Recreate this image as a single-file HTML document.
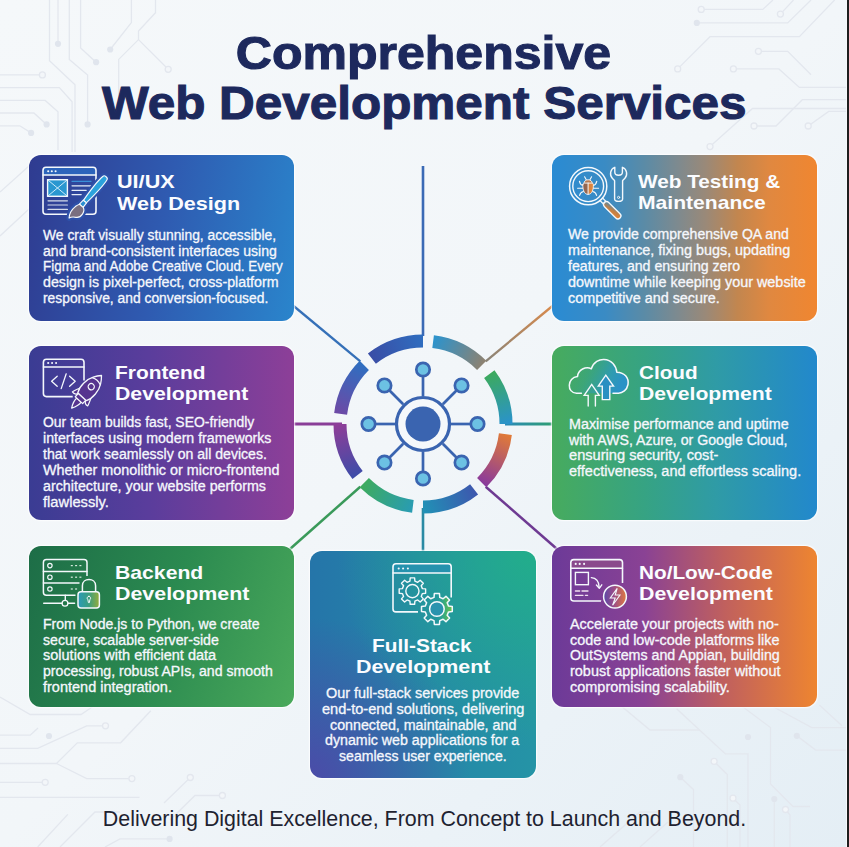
<!DOCTYPE html>
<html><head><meta charset="utf-8">
<style>
*{margin:0;padding:0;box-sizing:border-box}
html,body{width:849px;height:847px;overflow:hidden}
body{position:relative;background:#f2f6f9;font-family:"Liberation Sans",sans-serif}
svg{position:absolute;left:0;top:0}
.edge{position:absolute;left:847px;top:0;width:2px;height:847px;background:#1e1e1e;box-shadow:-1px 0 0 #f6f9fb}
.t{position:absolute;left:0;width:849px;text-align:center;color:#1d295d;font-weight:bold;font-size:46.5px;line-height:1;white-space:nowrap;-webkit-text-stroke:1.1px #1d295d}
.t span{display:inline-block}
.card{position:absolute;border-radius:12px;box-shadow:0 0 1.5px 0.6px rgba(255,255,255,0.85)}
.h,.b{position:absolute;white-space:nowrap;line-height:1;transform-origin:0 0}
.h{font-weight:bold;font-size:19.0px;color:#fbfcff}
.b{font-size:13.8px;color:#f5f7fc;-webkit-text-stroke:0.3px #f5f7fc}
.tag{position:absolute;left:0;width:849px;text-align:center;font-size:21.4px;line-height:1;color:#1e2230;white-space:nowrap}
</style></head>
<body>
<svg width="849" height="847" viewBox="0 0 849 847">
<defs><linearGradient id="bgl" x1="0" y1="0" x2="1" y2="1"><stop offset="0" stop-color="#f5f8fa"/><stop offset="0.5" stop-color="#f2f6f9"/><stop offset="1" stop-color="#e4eef5"/></linearGradient></defs>
<rect width="849" height="847" fill="url(#bgl)"/><path d="M58.0 0.0 L58.0 43.8" fill="none" stroke="#e3e7ee" stroke-width="1.3"/><path d="M49.5 0.0 L49.5 60.8 L75.0 84.8 L75.0 152.0" fill="none" stroke="#e3e7ee" stroke-width="1.3"/><path d="M69.3 0.0 L69.3 59.4 L87.6 75.0 L87.6 124.4" fill="none" stroke="#e3e7ee" stroke-width="1.3"/><path d="M80.6 0.0 L80.6 48.0 L96.1 62.2" fill="none" stroke="#e3e7ee" stroke-width="1.3"/><path d="M131.4 0.0 L131.4 22.6 L110.2 49.5" fill="none" stroke="#e3e7ee" stroke-width="1.3"/><path d="M155.5 0.0 L155.5 12.7 L138.5 31.1 L138.5 39.6 L118.7 59.4 L118.7 104.0" fill="none" stroke="#e3e7ee" stroke-width="1.3"/><path d="M138.5 39.6 L168.2 69.3" fill="none" stroke="#e3e7ee" stroke-width="1.3"/><path d="M0.0 74.9 L42.4 74.9" fill="none" stroke="#e3e7ee" stroke-width="1.3"/><path d="M0.0 87.6 L59.4 87.6 L72.1 101.8 L72.1 152.0" fill="none" stroke="#e3e7ee" stroke-width="1.3"/><path d="M0.0 100.4 L45.2 100.4 L58.0 111.7 L58.0 150.0" fill="none" stroke="#e3e7ee" stroke-width="1.3"/><path d="M0.0 113.0 L33.9 113.0 L46.6 124.4" fill="none" stroke="#e3e7ee" stroke-width="1.3"/><path d="M0.0 125.8 L19.8 125.8 L31.1 132.9" fill="none" stroke="#e3e7ee" stroke-width="1.3"/><path d="M0.0 192.0 L29.0 166.0" fill="none" stroke="#e3e7ee" stroke-width="1.3"/><path d="M0.0 236.0 L29.0 209.0" fill="none" stroke="#e3e7ee" stroke-width="1.3"/><path d="M701.2 9.4 L762.8 9.4 L773.0 0.0" fill="none" stroke="#e3e7ee" stroke-width="1.3"/><path d="M780.4 14.1 L793.5 0.0" fill="none" stroke="#e3e7ee" stroke-width="1.3"/><path d="M696.8 22.9 L787.7 22.9 L811.0 0.0" fill="none" stroke="#e3e7ee" stroke-width="1.3"/><path d="M677.7 68.9 L710.0 36.7 L799.4 36.7 L834.6 0.0" fill="none" stroke="#e3e7ee" stroke-width="1.3"/><path d="M758.4 51.3 L787.7 51.3 L811.0 74.8" fill="none" stroke="#e3e7ee" stroke-width="1.3"/><path d="M733.4 68.9 L778.9 68.9 L799.4 87.4 L847.0 87.4" fill="none" stroke="#e3e7ee" stroke-width="1.3"/><path d="M710.0 146.6 L752.5 108.5 L847.0 108.5" fill="none" stroke="#e3e7ee" stroke-width="1.3"/><path d="M754.0 126.0 L776.0 126.0 L802.3 99.7 L847.0 99.7" fill="none" stroke="#e3e7ee" stroke-width="1.3"/><path d="M808.2 126.0 L828.7 111.4 L847.0 111.4" fill="none" stroke="#e3e7ee" stroke-width="1.3"/><path d="M0.0 697.0 L30.2 714.5 L81.0 714.5 L98.0 703.0" fill="none" stroke="#e3e7ee" stroke-width="1.3"/><path d="M0.0 735.2 L30.2 735.2 L38.0 728.0" fill="none" stroke="#e3e7ee" stroke-width="1.3"/><path d="M0.0 748.4 L37.7 748.4 L86.7 725.8 L105.5 725.8" fill="none" stroke="#e3e7ee" stroke-width="1.3"/><path d="M0.0 763.5 L56.5 763.5 L77.3 742.8 L120.6 742.8 L150.8 710.7" fill="none" stroke="#e3e7ee" stroke-width="1.3"/><path d="M56.5 763.5 L86.7 778.6 L131.9 778.6" fill="none" stroke="#e3e7ee" stroke-width="1.3"/><path d="M0.0 782.3 L45.2 782.3" fill="none" stroke="#e3e7ee" stroke-width="1.3"/><path d="M0.0 797.4 L139.5 797.4" fill="none" stroke="#e3e7ee" stroke-width="1.3"/><path d="M37.7 847.0 L67.8 814.4" fill="none" stroke="#e3e7ee" stroke-width="1.3"/><path d="M190.3 777.5 L164.0 803.0" fill="none" stroke="#e3e7ee" stroke-width="1.3"/><path d="M222.4 795.5 L195.0 795.5 L170.0 820.0" fill="none" stroke="#e3e7ee" stroke-width="1.3"/><path d="M169.6 838.9 L120.0 838.9 L105.0 847.0" fill="none" stroke="#e3e7ee" stroke-width="1.3"/><path d="M60.0 847.0 L95.0 812.0 L120.0 812.0" fill="none" stroke="#e3e7ee" stroke-width="1.3"/><path d="M676.6 708.8 L725.4 753.9 L748.0 753.9 L748.0 847.0" fill="none" stroke="#e3e7ee" stroke-width="1.3"/><path d="M714.1 761.4 L727.3 774.6 L727.3 847.0" fill="none" stroke="#e3e7ee" stroke-width="1.3"/><path d="M680.3 777.2 L693.5 789.6 L693.5 847.0" fill="none" stroke="#e3e7ee" stroke-width="1.3"/><path d="M733.0 798.2 L740.0 805.0 L740.0 847.0" fill="none" stroke="#e3e7ee" stroke-width="1.3"/><path d="M774.3 799.0 L774.3 847.0" fill="none" stroke="#e3e7ee" stroke-width="1.3"/><path d="M785.5 809.5 L790.0 815.0 L790.0 847.0" fill="none" stroke="#e3e7ee" stroke-width="1.3"/><path d="M796.8 735.8 L815.6 750.1 L847.0 750.1" fill="none" stroke="#e3e7ee" stroke-width="1.3"/><path d="M740.4 705.0 L770.5 727.6 L770.5 784.0 L793.0 806.5 L810.0 806.5" fill="none" stroke="#e3e7ee" stroke-width="1.3"/><path d="M770.0 705.0 L811.8 727.6 L847.0 727.6" fill="none" stroke="#e3e7ee" stroke-width="1.3"/><path d="M819.4 705.0 L842.0 725.7" fill="none" stroke="#e3e7ee" stroke-width="1.3"/><path d="M600.0 847.0 L640.0 812.0 L660.0 812.0" fill="none" stroke="#e3e7ee" stroke-width="1.3"/><path d="M640.0 847.0 L668.0 822.0" fill="none" stroke="#e3e7ee" stroke-width="1.3"/><path d="M620.0 705.0 L650.0 730.0 L700.0 730.0" fill="none" stroke="#e3e7ee" stroke-width="1.3"/><circle cx="58" cy="43.8" r="3.1" fill="#e0e5ed"/><circle cx="87.6" cy="124.4" r="3.1" fill="#e0e5ed"/><circle cx="96.1" cy="62.2" r="3.1" fill="#e0e5ed"/><circle cx="110.2" cy="49.5" r="3.1" fill="#e0e5ed"/><circle cx="168.2" cy="69.3" r="3" fill="#f3f6f9" stroke="#e3e7ee" stroke-width="1.3"/><circle cx="42.4" cy="74.9" r="3" fill="#f3f6f9" stroke="#e3e7ee" stroke-width="1.3"/><circle cx="46.6" cy="124.4" r="3.1" fill="#e0e5ed"/><circle cx="31.1" cy="132.9" r="3.1" fill="#e0e5ed"/><circle cx="701.2" cy="9.4" r="3" fill="#f3f6f9" stroke="#e3e7ee" stroke-width="1.3"/><circle cx="780.4" cy="14.1" r="3" fill="#f3f6f9" stroke="#e3e7ee" stroke-width="1.3"/><circle cx="696.8" cy="22.9" r="3.1" fill="#e0e5ed"/><circle cx="677.7" cy="68.9" r="3" fill="#f3f6f9" stroke="#e3e7ee" stroke-width="1.3"/><circle cx="758.4" cy="51.3" r="3" fill="#f3f6f9" stroke="#e3e7ee" stroke-width="1.3"/><circle cx="733.4" cy="68.9" r="3" fill="#f3f6f9" stroke="#e3e7ee" stroke-width="1.3"/><circle cx="710" cy="146.6" r="3" fill="#f3f6f9" stroke="#e3e7ee" stroke-width="1.3"/><circle cx="754" cy="126" r="3" fill="#f3f6f9" stroke="#e3e7ee" stroke-width="1.3"/><circle cx="808.2" cy="126" r="3" fill="#f3f6f9" stroke="#e3e7ee" stroke-width="1.3"/><circle cx="49" cy="736" r="3.1" fill="#e0e5ed"/><circle cx="105.5" cy="725.8" r="3" fill="#f3f6f9" stroke="#e3e7ee" stroke-width="1.3"/><circle cx="131.9" cy="778.6" r="3" fill="#f3f6f9" stroke="#e3e7ee" stroke-width="1.3"/><circle cx="45.2" cy="782.3" r="3" fill="#f3f6f9" stroke="#e3e7ee" stroke-width="1.3"/><circle cx="190.3" cy="777.5" r="3" fill="#f3f6f9" stroke="#e3e7ee" stroke-width="1.3"/><circle cx="222.4" cy="795.5" r="3" fill="#f3f6f9" stroke="#e3e7ee" stroke-width="1.3"/><circle cx="169.6" cy="838.9" r="3.1" fill="#e0e5ed"/><circle cx="748" cy="737" r="3.1" fill="#e0e5ed"/><circle cx="714.1" cy="761.4" r="3" fill="#f3f6f9" stroke="#e3e7ee" stroke-width="1.3"/><circle cx="680.3" cy="777.2" r="3.1" fill="#e0e5ed"/><circle cx="733" cy="798.2" r="3" fill="#f3f6f9" stroke="#e3e7ee" stroke-width="1.3"/><circle cx="774.3" cy="799" r="3.1" fill="#e0e5ed"/><circle cx="785.5" cy="809.5" r="3" fill="#f3f6f9" stroke="#e3e7ee" stroke-width="1.3"/><circle cx="796.8" cy="735.8" r="3.1" fill="#e0e5ed"/>
</svg>
<div class="t" style="top:29.5px;left:-1.5px"><span style="transform:scaleX(1.076)">Comprehensive</span></div>
<div class="t" style="top:79.5px;left:-0.5px"><span style="transform:scaleX(1.063)">Web Development Services</span></div>
<svg width="849" height="847" viewBox="0 0 849 847"><defs><linearGradient id="sg0" gradientUnits="userSpaceOnUse" x1="371.9" y1="358.6" x2="423.0" y2="341.0"><stop offset="0" stop-color="#3a4ea6"/><stop offset="1" stop-color="#2f6dbf"/></linearGradient><linearGradient id="sg1" gradientUnits="userSpaceOnUse" x1="433.1" y1="341.6" x2="481.7" y2="365.3"><stop offset="0" stop-color="#2d93cc"/><stop offset="1" stop-color="#8c8272"/></linearGradient><linearGradient id="sg2" gradientUnits="userSpaceOnUse" x1="489.3" y1="374.0" x2="506.0" y2="424.0"><stop offset="0" stop-color="#3caa5e"/><stop offset="1" stop-color="#2a93ca"/></linearGradient><linearGradient id="sg3" gradientUnits="userSpaceOnUse" x1="505.4" y1="434.1" x2="481.7" y2="482.7"><stop offset="0" stop-color="#e07a38"/><stop offset="1" stop-color="#8a3a9c"/></linearGradient><linearGradient id="sg4" gradientUnits="userSpaceOnUse" x1="474.1" y1="489.4" x2="423.0" y2="507.0"><stop offset="0" stop-color="#3d58ae"/><stop offset="1" stop-color="#2191b6"/></linearGradient><linearGradient id="sg5" gradientUnits="userSpaceOnUse" x1="412.9" y1="506.4" x2="364.3" y2="482.7"><stop offset="0" stop-color="#299cb2"/><stop offset="1" stop-color="#3eab5f"/></linearGradient><linearGradient id="sg6" gradientUnits="userSpaceOnUse" x1="357.6" y1="475.1" x2="340.0" y2="424.0"><stop offset="0" stop-color="#3e4ca8"/><stop offset="1" stop-color="#8e3e98"/></linearGradient><linearGradient id="sg7" gradientUnits="userSpaceOnUse" x1="340.6" y1="413.9" x2="364.3" y2="365.3"><stop offset="0" stop-color="#6c4aa6"/><stop offset="1" stop-color="#2f6ec0"/></linearGradient><linearGradient id="lg2" gradientUnits="userSpaceOnUse" x1="552" y1="306" x2="487" y2="362"><stop offset="0" stop-color="#d88a4c"/><stop offset="1" stop-color="#8a8478"/></linearGradient><linearGradient id="lg4" gradientUnits="userSpaceOnUse" x1="505" y1="0" x2="553" y2="0"><stop offset="0" stop-color="#2a8ab8"/><stop offset="1" stop-color="#2f9e72"/></linearGradient></defs><line x1="423" y1="166" x2="423" y2="336" stroke="#3a6ab5" stroke-width="2.6"/><line x1="293" y1="305.5" x2="360.3" y2="361.3" stroke="#3570b8" stroke-width="2.3"/><line x1="553" y1="305.5" x2="485.7" y2="361.3" stroke="url(#lg2)" stroke-width="2.3"/><line x1="293" y1="424" x2="342" y2="424" stroke="#8a3e98" stroke-width="2.8"/><line x1="505" y1="424" x2="553" y2="424" stroke="url(#lg4)" stroke-width="3"/><line x1="290" y1="549" x2="360.3" y2="486.7" stroke="#3a9a5a" stroke-width="2.5"/><line x1="485.7" y1="486.7" x2="557" y2="549" stroke="#6e3a92" stroke-width="2.5"/><line x1="423" y1="508" x2="423" y2="552" stroke="#2a8aa4" stroke-width="2.6"/><path d="M371.90 358.60A83 83 0 0 1 423.00 341.00" stroke="url(#sg0)" stroke-width="13" fill="none"/><path d="M433.12 341.62A83 83 0 0 1 481.69 365.31" stroke="url(#sg1)" stroke-width="13" fill="none"/><path d="M489.29 374.05A83 83 0 0 1 506.00 424.00" stroke="url(#sg2)" stroke-width="13" fill="none"/><path d="M505.38 434.12A83 83 0 0 1 481.69 482.69" stroke="url(#sg3)" stroke-width="13" fill="none"/><path d="M474.10 489.40A83 83 0 0 1 423.00 507.00" stroke="url(#sg4)" stroke-width="13" fill="none"/><path d="M412.88 506.38A83 83 0 0 1 364.31 482.69" stroke="url(#sg5)" stroke-width="13" fill="none"/><path d="M357.60 475.10A83 83 0 0 1 340.00 424.00" stroke="url(#sg6)" stroke-width="13" fill="none"/><path d="M340.62 413.88A83 83 0 0 1 364.31 365.31" stroke="url(#sg7)" stroke-width="13" fill="none"/><line x1="451.00" y1="424.00" x2="471.00" y2="424.00" stroke="#3a64b0" stroke-width="2.7"/><line x1="442.80" y1="443.80" x2="456.94" y2="457.94" stroke="#3a64b0" stroke-width="2.7"/><line x1="423.00" y1="452.00" x2="423.00" y2="472.00" stroke="#3a64b0" stroke-width="2.7"/><line x1="403.20" y1="443.80" x2="389.06" y2="457.94" stroke="#3a64b0" stroke-width="2.7"/><line x1="395.00" y1="424.00" x2="375.00" y2="424.00" stroke="#3a64b0" stroke-width="2.7"/><line x1="403.20" y1="404.20" x2="389.06" y2="390.06" stroke="#3a64b0" stroke-width="2.7"/><line x1="423.00" y1="396.00" x2="423.00" y2="376.00" stroke="#3a64b0" stroke-width="2.7"/><line x1="442.80" y1="404.20" x2="456.94" y2="390.06" stroke="#3a64b0" stroke-width="2.7"/><circle cx="477.50" cy="424.00" r="6.7" fill="#6cc1e3" stroke="#3a64b0" stroke-width="2.7"/><circle cx="461.54" cy="462.54" r="6.7" fill="#6cc1e3" stroke="#3a64b0" stroke-width="2.7"/><circle cx="423.00" cy="478.50" r="6.7" fill="#6cc1e3" stroke="#3a64b0" stroke-width="2.7"/><circle cx="384.46" cy="462.54" r="6.7" fill="#6cc1e3" stroke="#3a64b0" stroke-width="2.7"/><circle cx="368.50" cy="424.00" r="6.7" fill="#6cc1e3" stroke="#3a64b0" stroke-width="2.7"/><circle cx="384.46" cy="385.46" r="6.7" fill="#6cc1e3" stroke="#3a64b0" stroke-width="2.7"/><circle cx="423.00" cy="369.50" r="6.7" fill="#6cc1e3" stroke="#3a64b0" stroke-width="2.7"/><circle cx="461.54" cy="385.46" r="6.7" fill="#6cc1e3" stroke="#3a64b0" stroke-width="2.7"/><circle cx="423" cy="424" r="26.5" fill="#f5f8fb" stroke="#3a64b0" stroke-width="3.2"/><circle cx="423" cy="424" r="17.5" fill="#3a64b0"/></svg>
<div class="card" style="left:29px;top:155px;width:265px;height:166px;background:linear-gradient(100deg,#2f3b90 0%,#2f5bb1 50%,#2a85cc 100%)"></div><svg style="left:38px;top:160px" width="75" height="62" viewBox="38 160 75 62" fill="none" stroke-linecap="round" stroke-linejoin="round"><path d="M43 175V170.2Q43 167.2 46 167.2H93Q96 167.2 96 170.2V175Z" fill="#2d64bb" stroke="none"/><rect x="43" y="167.2" width="53" height="47.10000000000002" rx="3" stroke="#f4f8fc" stroke-width="1.6"/><line x1="43" y1="175" x2="96" y2="175" stroke="#f4f8fc" stroke-width="1.4400000000000002"/><circle cx="48.2" cy="171.2" r="1.05" fill="#f4f8fc" stroke="none"/><circle cx="51.8" cy="171.2" r="1.05" fill="#f4f8fc" stroke="none"/><circle cx="55.6" cy="171.2" r="1.05" fill="#f4f8fc" stroke="none"/><rect x="47.6" y="179.7" width="19.8" height="16.6" fill="#2a97d0" stroke="#f4f8fc" stroke-width="1.4" stroke-linejoin="miter"/><path d="M47.8 179.9L67.2 196.1M67.2 179.9L47.8 196.1" stroke="#dff3ff" stroke-width="0.9"/><line x1="72" y1="181.3" x2="91" y2="181.3" stroke="#3a8fd8" stroke-width="1.3"/><line x1="72" y1="185.8" x2="91" y2="185.8" stroke="#e6eef8" stroke-width="1.2"/><line x1="72" y1="190.3" x2="86.2" y2="190.3" stroke="#e6eef8" stroke-width="1.2"/><line x1="72" y1="194.6" x2="81.2" y2="194.6" stroke="#e6eef8" stroke-width="1.2"/><line x1="48" y1="200.8" x2="67.4" y2="200.8" stroke="#d4dcea" stroke-width="1.2"/><line x1="48" y1="205" x2="67.4" y2="205" stroke="#d4dcea" stroke-width="1.2"/><line x1="48" y1="209.4" x2="67.4" y2="209.4" stroke="#d4dcea" stroke-width="1.2"/><g transform="translate(105 178) rotate(130.5)"><path d="M0 -2.6 C-2.2 -2.6 -2.2 2.6 0 2.6 C6 3.7 13 3.6 31 1.9 L31 -1.9 C13 -3.6 6 -3.7 0 -2.6 Z" fill="#2f52aa" stroke="#2f52aa" stroke-width="5.5"/><path d="M31 -2.1 L36.5 -2.4 L36.5 2.4 L31 2.1 Z" fill="#2f52aa" stroke="#2f52aa" stroke-width="5.5"/><path d="M36.5 -2.4 C38 -6.8 46 -8.2 48.8 -3.4 C50.2 -1 51.6 0.6 53.8 1.3 C50.5 3.8 45 4.8 41 4 C38.5 3.4 37.2 2.8 36.5 2.4 Z" fill="#2f52aa" stroke="#2f52aa" stroke-width="5.5"/><path d="M0 -2.6 C-2.2 -2.6 -2.2 2.6 0 2.6 C6 3.7 13 3.6 31 1.9 L31 -1.9 C13 -3.6 6 -3.7 0 -2.6 Z" fill="#2ca3dc" stroke="#f4f8fc" stroke-width="1.15"/><path d="M31 -2.1 L36.5 -2.4 L36.5 2.4 L31 2.1 Z" fill="#2a8fd0" stroke="#f4f8fc" stroke-width="1.15"/><path d="M36.5 -2.4 C38 -6.8 46 -8.2 48.8 -3.4 C50.2 -1 51.6 0.6 53.8 1.3 C50.5 3.8 45 4.8 41 4 C38.5 3.4 37.2 2.8 36.5 2.4 Z" fill="#7a6f80" stroke="#f4f8fc" stroke-width="1.15"/></g></svg><div class="card" style="left:552px;top:155px;width:265px;height:166px;background:linear-gradient(90deg,#2a8bd3 0%,#3a8bc4 20%,#5b8ba6 35%,#7f8a8e 48%,#9a8978 58%,#c2864f 70%,#e08840 82%,#f08630 100%)"></div><svg style="left:562px;top:160px" width="75" height="62" viewBox="562 160 75 62" fill="none" stroke-linecap="round" stroke-linejoin="round"><defs><linearGradient id="hg2" x1="0" y1="0" x2="1" y2="1"><stop offset="0" stop-color="#3a8cc0"/><stop offset="0.5" stop-color="#c08048"/><stop offset="1" stop-color="#ee8632"/></linearGradient><linearGradient id="bug2" x1="0" y1="0" x2="1" y2="0"><stop offset="0" stop-color="#8b6252"/><stop offset="0.5" stop-color="#9a6a4e"/><stop offset="0.52" stop-color="#d9803c"/><stop offset="1" stop-color="#de8a42"/></linearGradient></defs><circle cx="588.2" cy="186.2" r="18.6" stroke="#f4f8fc" stroke-width="1.5"/><circle cx="588.2" cy="186.2" r="15.4" stroke="#f4f8fc" stroke-width="1.4"/><g transform="translate(588.2 186.2) rotate(45)"><path d="M18.8 -1.8 H23 V1.8 H18.8" stroke="#f4f8fc" stroke-width="1.2"/><rect x="23" y="-3" width="22" height="6" rx="3" fill="url(#hg2)" stroke="#f4f8fc" stroke-width="1.3"/></g><path d="M583 185.5 C581 185 579.8 183.5 579.4 181.2 M593.2 185.5 C595.2 185 596.4 183.5 596.8 181.2 M582.8 188.3 H577.6 M593.4 188.3 H598.6 M583.4 191.5 C581.5 192 580 193.5 579.6 195.4 M592.8 191.5 C594.7 192 596.2 193.5 596.6 195.4 M586.3 179.8 L584.6 176.8 M589.9 179.8 L591.6 176.8" stroke="#f4f8fc" stroke-width="1.1"/><path d="M583.9 183.2 C583.9 178.5 592.3 178.5 592.3 183.2 Z" fill="#b97a50" stroke="#f4f8fc" stroke-width="0.9"/><path d="M582.8 184.6 C582.8 183.4 583.8 183.1 585 183.1 H591.2 C592.4 183.1 593.4 183.4 593.4 184.6 C593.6 189.6 592 194.4 588.1 194.4 C584.2 194.4 582.6 189.6 582.8 184.6 Z" fill="url(#bug2)" stroke="#f4f8fc" stroke-width="0.9"/><path d="M588.1 183 V194.3" stroke="#f4f8fc" stroke-width="1"/><path d="M614.8 167.3 C610.2 168.8 609.3 174.8 612.3 178.2 C613.3 179.3 614.3 180 614.6 180.8 L614.6 199 C614.6 202.2 622.6 202.2 622.6 199 L622.6 180.8 C622.9 180 623.9 179.3 624.9 178.2 C627.9 174.8 627 168.8 622.4 167.3 L622.4 172.3 C622.4 176.2 614.8 176.2 614.8 172.3 Z" stroke="#f4f8fc" stroke-width="1.4"/><circle cx="618.6" cy="197.4" r="1.1" stroke="#f4f8fc" stroke-width="0.9"/></svg><div class="card" style="left:29px;top:346px;width:265px;height:174px;background:linear-gradient(90deg,#3a3c93 0%,#5a3d9c 45%,#8d3f98 100%)"></div><svg style="left:38px;top:352px" width="75" height="62" viewBox="38 352 75 62" fill="none" stroke-linecap="round" stroke-linejoin="round"><clipPath id="c3"><path d="M40 355H110V380.5H81L72.7 394V400H40Z"/></clipPath><g clip-path="url(#c3)"><rect x="43.4" y="359.2" width="40.6" height="37.400000000000034" rx="3" stroke="#f4f8fc" stroke-width="1.6"/><line x1="43.4" y1="367" x2="84" y2="367" stroke="#f4f8fc" stroke-width="1.4400000000000002"/><circle cx="48.2" cy="363" r="1.05" fill="#f4f8fc" stroke="none"/><circle cx="52.1" cy="363" r="1.05" fill="#f4f8fc" stroke="none"/><circle cx="56.1" cy="363" r="1.05" fill="#f4f8fc" stroke="none"/></g><path d="M57.2 376.2 L51.6 381.2 L57.2 386.2 M69.6 376.2 L75.2 381.2 L69.6 386.2 M66.2 373.8 L61.2 388.6" stroke="#f4f8fc" stroke-width="1.3"/><g transform="translate(80.7 398.2) rotate(-47.5)"><path d="M8 -7.2 C4 -8.6 0.5 -10.2 -1 -10.4 C-1.6 -8.2 -0.6 -6.2 1.5 -5.2 Z" fill="#56348f" stroke="#f4f8fc" stroke-width="1.2"/><path d="M8 7.2 C4 8.6 0.5 10.2 -1 10.4 C-1.6 8.2 -0.6 6.2 1.5 5.2 Z" fill="#56348f" stroke="#f4f8fc" stroke-width="1.2"/><path d="M-2.5 -3 C-6 -3.4 -10 -2 -13.4 0 C-10 2 -6 3.4 -2.5 3 Z" fill="#56348f" stroke="#f4f8fc" stroke-width="1.2"/><path d="M-2.6 -5 H2 V5 H-2.6 Z" fill="#56348f" stroke="#f4f8fc" stroke-width="1.2"/><path d="M2 -5.8 C8 -9.2 18 -8.6 24 -5 C27.5 -3 29.5 -1.2 30.8 0 C29.5 1.2 27.5 3 24 5 C18 8.6 8 9.2 2 5.8 Z" fill="#56348f" stroke="#f4f8fc" stroke-width="1.3"/><path d="M23 -5.4 C24.6 -2 24.6 2 23 5.4" stroke="#f4f8fc" stroke-width="1.2"/><circle cx="15.6" cy="0" r="3.1" stroke="#f4f8fc" stroke-width="1.2"/></g></svg><div class="card" style="left:552px;top:346px;width:265px;height:174px;background:linear-gradient(90deg,#47ab5e 0%,#36a383 35%,#2f9ba6 62%,#2288cc 100%)"></div><svg style="left:562px;top:352px" width="75" height="62" viewBox="562 352 75 62" fill="none" stroke-linecap="round" stroke-linejoin="round"><defs><linearGradient id="cg4" x1="0" y1="0" x2="1" y2="0.3"><stop offset="0" stop-color="#3fa66a" stop-opacity="0"/><stop offset="0.42" stop-color="#33a097" stop-opacity="0.3"/><stop offset="0.75" stop-color="#2e9ab8" stop-opacity="0.85"/><stop offset="1" stop-color="#2a92c6"/></linearGradient></defs><path d="M581.4 393.2 H576.5 C566.5 393 567 377.5 577.5 376.6 C578 369.5 586 366 591.3 368.8 C593.5 361.5 599.5 359.2 604 359.4 C611.5 359.7 616.2 365.5 616.8 372.2 C625 372.5 629 378 628 384.5 C627 390 622.5 393.2 618.5 393.2 H613" fill="url(#cg4)" stroke="none"/><path d="M581.4 393.2 H576.5 C566.5 393 567 377.5 577.5 376.6 C578 369.5 586 366 591.3 368.8 C593.5 361.5 599.5 359.2 604 359.4 C611.5 359.7 616.2 365.5 616.8 372.2 C625 372.5 629 378 628 384.5 C627 390 622.5 393.2 618.5 393.2 H613" stroke="#f4f8fc" stroke-width="1.5"/><path d="M588.2 406 V395.4 H584.2 L591.7 384.4 L599.2 395.4 H595.4 V406" stroke="#f4f8fc" stroke-width="1.4" stroke-linejoin="miter"/><path d="M602.3 399.6 V386.1 H598.3 L605.8 375.2 L613.5 386.1 H609.8 V399.6 Z" fill="#2a8fc2" stroke="#f4f8fc" stroke-width="1.4" stroke-linejoin="miter"/></svg><div class="card" style="left:29px;top:546px;width:265px;height:161px;background:linear-gradient(110deg,#1d6d47 0%,#2b8a50 50%,#4aa95b 100%)"></div><svg style="left:38px;top:552px" width="75" height="62" viewBox="38 552 75 62" fill="none" stroke-linecap="round" stroke-linejoin="round"><defs><linearGradient id="lk5" x1="0" y1="0" x2="1" y2="0"><stop offset="0" stop-color="#2a9ab8"/><stop offset="0.5" stop-color="#3a9e80"/><stop offset="1" stop-color="#96ac3a"/></linearGradient></defs><clipPath id="c5"><path d="M40 555H95V576H79.5V589H75.5V600H40Z"/></clipPath><g clip-path="url(#c5)"><rect x="43.4" y="559.6" width="43.6" height="35.6" rx="3" stroke="#f4f8fc" stroke-width="1.5"/><line x1="43.4" y1="571.5" x2="87" y2="571.5" stroke="#f4f8fc" stroke-width="1.4"/><line x1="43.4" y1="583" x2="87" y2="583" stroke="#f4f8fc" stroke-width="1.4"/></g><circle cx="49.9" cy="565.6" r="2.2" stroke="#f4f8fc" stroke-width="1.2"/><circle cx="49.9" cy="577.2" r="2.2" stroke="#f4f8fc" stroke-width="1.2"/><circle cx="49.9" cy="589" r="2.2" stroke="#f4f8fc" stroke-width="1.2"/><rect x="70.8" y="565.0" width="2" height="1.2" fill="#d8eadf" stroke="none"/><rect x="75.1" y="565.0" width="2" height="1.2" fill="#d8eadf" stroke="none"/><rect x="79.4" y="565.0" width="2" height="1.2" fill="#d8eadf" stroke="none"/><rect x="70.8" y="576.6" width="2" height="1.2" fill="#d8eadf" stroke="none"/><rect x="75.1" y="576.6" width="2" height="1.2" fill="#d8eadf" stroke="none"/><rect x="79.4" y="576.6" width="2" height="1.2" fill="#d8eadf" stroke="none"/><rect x="70.8" y="588.4" width="2" height="1.2" fill="#d8eadf" stroke="none"/><rect x="75.1" y="588.4" width="2" height="1.2" fill="#d8eadf" stroke="none"/><path d="M65.3 595.3 V600.3 M43.7 603.2 H62 M68 603.2 H74.6" stroke="#f4f8fc" stroke-width="1.4"/><circle cx="65" cy="603.2" r="2.9" stroke="#f4f8fc" stroke-width="1.3"/><path d="M82.4 591.8 V585.8 C82.4 577.5 95.6 577.5 95.6 585.8 V591.8" stroke="#f4f8fc" stroke-width="1.5"/><rect x="78" y="591.8" width="21.4" height="16.3" rx="3" fill="url(#lk5)" stroke="#f4f8fc" stroke-width="1.5"/><path d="M88.9 596.3 C87 596.3 86.6 598.8 87.9 599.7 L88.4 602.6 H89.4 L89.9 599.7 C91.2 598.8 90.8 596.3 88.9 596.3 Z" stroke="#f4f8fc" stroke-width="1"/></svg><div class="card" style="left:552px;top:546px;width:265px;height:161px;background:linear-gradient(90deg,#6c3a98 0%,#8a4294 35%,#c0605e 65%,#ee8530 100%)"></div><svg style="left:562px;top:552px" width="75" height="62" viewBox="562 552 75 62" fill="none" stroke-linecap="round" stroke-linejoin="round"><defs><linearGradient id="bc6" x1="0" y1="0" x2="1" y2="0"><stop offset="0" stop-color="#5a48a8"/><stop offset="0.45" stop-color="#9a4c88"/><stop offset="1" stop-color="#e07a3e"/></linearGradient></defs><clipPath id="c6"><path d="M565 555H630V583 H614 L604 588 L600 606 H565Z"/></clipPath><g clip-path="url(#c6)"><path d="M570.8 568.3V562.6Q570.8 559.6 573.8 559.6H619.5Q622.5 559.6 622.5 562.6V568.3Z" fill="#8a4a8c" stroke="none"/><rect x="570.8" y="559.6" width="51.700000000000045" height="41.39999999999998" rx="3" stroke="#f4f8fc" stroke-width="1.6"/><line x1="570.8" y1="568.3" x2="622.5" y2="568.3" stroke="#f4f8fc" stroke-width="1.4400000000000002"/><circle cx="575.7" cy="563.9" r="1.05" fill="#f4f8fc" stroke="none"/><circle cx="579.7" cy="563.9" r="1.05" fill="#f4f8fc" stroke="none"/><circle cx="584.1" cy="563.9" r="1.05" fill="#f4f8fc" stroke="none"/></g><rect x="575.4" y="572.4" width="13" height="12.3" stroke="#f4f8fc" stroke-width="1.4" stroke-linejoin="miter"/><path d="M591.3 577.6 C595.5 577.8 598.8 580.5 599.2 587.2" stroke="#f4f8fc" stroke-width="1.3"/><path d="M596.4 585 L599.3 588.3 L601.8 584.8" stroke="#f4f8fc" stroke-width="1.3"/><path d="M575.4 591 H579.7 M582 591 H588 M575.4 595.3 H583 M585.4 595.3 H587.6" stroke="#f0dff0" stroke-width="1.3"/><circle cx="615" cy="596.6" r="11.4" fill="url(#bc6)" stroke="#f4f8fc" stroke-width="1.5"/><path d="M617.2 588.4 L610.3 598 H615.2 L612.6 605.2 L620 595 H615.2 Z" stroke="#f4f8fc" stroke-width="1.1" stroke-linejoin="miter"/></svg><div class="card" style="left:310px;top:551px;width:226px;height:227px;background:radial-gradient(circle at 100% 0%,rgba(34,176,136,0.92) 0,rgba(34,176,136,0) 62%),radial-gradient(circle at 0% 100%,rgba(78,72,168,0.92) 0,rgba(78,72,168,0) 50%),linear-gradient(90deg,#2575a9,#2589a8 60%,#2594a6)"></div><svg style="left:385px;top:558px" width="75" height="72" viewBox="385 558 75 72" fill="none" stroke-linecap="round" stroke-linejoin="round"><defs><linearGradient id="gg7" x1="0" y1="0" x2="1" y2="0"><stop offset="0" stop-color="#2aa5a0" stop-opacity="0"/><stop offset="0.5" stop-color="#2aa5a0" stop-opacity="0"/><stop offset="0.78" stop-color="#42b070"/><stop offset="1" stop-color="#70c24e"/></linearGradient></defs><clipPath id="c7"><path d="M388 560H456V597.5H430L418 606V616H388Z"/></clipPath><g clip-path="url(#c7)"><path d="M393 573V566.8Q393 563.8 396 563.8H448.2Q451.2 563.8 451.2 566.8V573Z" fill="#2592ae" stroke="none"/><rect x="393" y="563.8" width="58.19999999999999" height="48.10000000000002" rx="3" stroke="#f4f8fc" stroke-width="1.6"/><line x1="393" y1="573" x2="451.2" y2="573" stroke="#f4f8fc" stroke-width="1.4400000000000002"/><circle cx="398.7" cy="568.5" r="1.05" fill="#f4f8fc" stroke="none"/><circle cx="403.1" cy="568.5" r="1.05" fill="#f4f8fc" stroke="none"/><circle cx="407.9" cy="568.5" r="1.05" fill="#f4f8fc" stroke="none"/></g><path d="M409.92 581.10L410.20 577.88L414.60 577.88L414.88 581.10L417.71 582.28L420.19 580.20L423.30 583.31L421.22 585.79L422.40 588.62L425.62 588.90L425.62 593.30L422.40 593.58L421.22 596.41L423.30 598.89L420.19 602.00L417.71 599.92L414.88 601.10L414.60 604.32L410.20 604.32L409.92 601.10L407.09 599.92L404.61 602.00L401.50 598.89L403.58 596.41L402.40 593.58L399.18 593.30L399.18 588.90L402.40 588.62L403.58 585.79L401.50 583.31L404.61 580.20L407.09 582.28Z" stroke="#f4f8fc" stroke-width="1.4"/><circle cx="412.4" cy="591.1" r="6.6" stroke="#f4f8fc" stroke-width="1.4"/><path d="M434.01 597.35L434.34 593.61L439.46 593.61L439.79 597.35L443.09 598.72L445.97 596.31L449.59 599.93L447.18 602.81L448.55 606.11L452.29 606.44L452.29 611.56L448.55 611.89L447.18 615.19L449.59 618.07L445.97 621.69L443.09 619.28L439.79 620.65L439.46 624.39L434.34 624.39L434.01 620.65L430.71 619.28L427.83 621.69L424.21 618.07L426.62 615.19L425.25 611.89L421.51 611.56L421.51 606.44L425.25 606.11L426.62 602.81L424.21 599.93L427.83 596.31L430.71 598.72Z" fill="url(#gg7)" stroke="#f4f8fc" stroke-width="1.5"/><circle cx="436.9" cy="609" r="7.3" fill="#2a93ae" stroke="#f4f8fc" stroke-width="1.5"/></svg>
<div class="h" id="L0" style="left:116.60px;top:172.20px;transform:scaleX(1.1380)">UI/UX</div><div class="h" id="L1" style="left:116.60px;top:194.00px;transform:scaleX(1.1357)">Web Design</div><div class="b" id="L2" style="left:42.80px;top:228.50px;transform:scaleX(1.0043)">We craft visually stunning, accessible,</div><div class="b" id="L3" style="left:42.80px;top:244.50px;transform:scaleX(1.0197)">and brand-consistent interfaces using</div><div class="b" id="L4" style="left:42.80px;top:260.00px;transform:scaleX(0.9735)">Figma and Adobe Creative Cloud. Every</div><div class="b" id="L5" style="left:42.80px;top:275.80px;transform:scaleX(1.0309)">design is pixel-perfect, cross-platform</div><div class="b" id="L6" style="left:42.80px;top:291.50px;transform:scaleX(1.0023)">responsive, and conversion-focused.</div><div class="h" id="L7" style="left:638.00px;top:172.00px;transform:scaleX(1.0917)">Web Testing &amp;</div><div class="h" id="L8" style="left:638.00px;top:193.40px;transform:scaleX(1.1106)">Maintenance</div><div class="b" id="L9" style="left:568.20px;top:228.00px;transform:scaleX(1.0186)">We provide comprehensive QA and</div><div class="b" id="L10" style="left:568.20px;top:243.60px;transform:scaleX(1.0426)">maintenance, fixing bugs, updating</div><div class="b" id="L11" style="left:568.20px;top:259.50px;transform:scaleX(1.0240)">features, and ensuring zero</div><div class="b" id="L12" style="left:568.20px;top:275.80px;transform:scaleX(1.0440)">downtime while keeping your website</div><div class="b" id="L13" style="left:568.20px;top:291.70px;transform:scaleX(1.0417)">competitive and secure.</div><div class="h" id="L14" style="left:115.00px;top:363.00px;transform:scaleX(1.0989)">Frontend</div><div class="h" id="L15" style="left:115.00px;top:384.30px;transform:scaleX(1.1177)">Development</div><div class="b" id="L16" style="left:42.60px;top:415.60px;transform:scaleX(1.0095)">Our team builds fast, SEO-friendly</div><div class="b" id="L17" style="left:42.60px;top:431.60px;transform:scaleX(1.0271)">interfaces using modern frameworks</div><div class="b" id="L18" style="left:42.60px;top:447.80px;transform:scaleX(1.0210)">that work seamlessly on all devices.</div><div class="b" id="L19" style="left:42.60px;top:463.70px;transform:scaleX(1.0421)">Whether monolithic or micro-frontend</div><div class="b" id="L20" style="left:42.60px;top:480.00px;transform:scaleX(1.0348)">architecture, your website performs</div><div class="b" id="L21" style="left:42.60px;top:495.90px;transform:scaleX(1.0663)">flawlessly.</div><div class="h" id="L22" style="left:639.00px;top:363.00px;transform:scaleX(1.0894)">Cloud</div><div class="h" id="L23" style="left:639.00px;top:384.30px;transform:scaleX(1.1134)">Development</div><div class="b" id="L24" style="left:568.80px;top:417.80px;transform:scaleX(1.0378)">Maximise performance and uptime</div><div class="b" id="L25" style="left:568.80px;top:433.70px;transform:scaleX(1.0236)">with AWS, Azure, or Google Cloud,</div><div class="b" id="L26" style="left:568.80px;top:449.30px;transform:scaleX(1.0606)">ensuring security, cost-</div><div class="b" id="L27" style="left:568.80px;top:465.30px;transform:scaleX(1.0500)">effectiveness, and effortless scaling.</div><div class="h" id="L28" style="left:115.00px;top:563.00px;transform:scaleX(1.1147)">Backend</div><div class="h" id="L29" style="left:115.00px;top:584.30px;transform:scaleX(1.1264)">Development</div><div class="b" id="L30" style="left:42.60px;top:618.40px;transform:scaleX(1.0190)">From Node.js to Python, we create</div><div class="b" id="L31" style="left:42.60px;top:633.70px;transform:scaleX(1.0235)">secure, scalable server-side</div><div class="b" id="L32" style="left:42.60px;top:649.30px;transform:scaleX(1.0518)">solutions with efficient data</div><div class="b" id="L33" style="left:42.60px;top:665.30px;transform:scaleX(1.0224)">processing, robust APIs, and smooth</div><div class="b" id="L34" style="left:42.60px;top:680.60px;transform:scaleX(1.0507)">frontend integration.</div><div class="h" id="L35" style="left:639.40px;top:563.00px;transform:scaleX(1.0925)">No/Low-Code</div><div class="h" id="L36" style="left:639.40px;top:584.30px;transform:scaleX(1.1223)">Development</div><div class="b" id="L37" style="left:570.20px;top:617.80px;transform:scaleX(1.0426)">Accelerate your projects with no-</div><div class="b" id="L38" style="left:570.20px;top:633.70px;transform:scaleX(1.0424)">code and low-code platforms like</div><div class="b" id="L39" style="left:570.20px;top:649.30px;transform:scaleX(1.0322)">OutSystems and Appian, building</div><div class="b" id="L40" style="left:570.20px;top:665.30px;transform:scaleX(1.0474)">robust applications faster without</div><div class="b" id="L41" style="left:570.20px;top:680.60px;transform:scaleX(1.0496)">compromising scalability.</div><div class="h" id="L42" style="left:372.39px;top:636.20px;transform:scaleX(1.0968)">Full-Stack</div><div class="h" id="L43" style="left:355.53px;top:657.20px;transform:scaleX(1.1269)">Development</div><div class="b" id="L44" style="left:326.32px;top:686.90px;transform:scaleX(1.0465)">Our full-stack services provide</div><div class="b" id="L45" style="left:321.95px;top:703.00px;transform:scaleX(1.0553)">end-to-end solutions, delivering</div><div class="b" id="L46" style="left:329.96px;top:718.60px;transform:scaleX(1.0337)">connected, maintainable, and</div><div class="b" id="L47" style="left:324.97px;top:733.90px;transform:scaleX(1.0294)">dynamic web applications for a</div><div class="b" id="L48" style="left:338.77px;top:749.50px;transform:scaleX(1.0217)">seamless user experience.</div>
<div class="tag" style="top:809px">Delivering Digital Excellence, From Concept to Launch and Beyond.</div>
<div class="edge"></div>
</body></html>
